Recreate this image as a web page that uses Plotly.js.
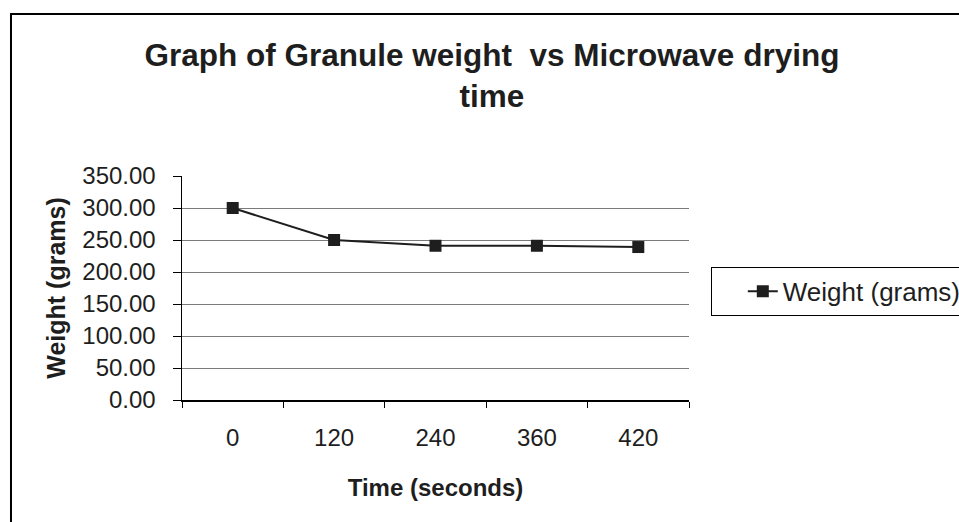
<!DOCTYPE html>
<html>
<head>
<meta charset="utf-8">
<script src="https://cdn.plot.ly/plotly-3.0.1.min.js"></script>
<style>
  html, body { margin: 0; padding: 0; background: #ffffff; }
  #chart { width: 959px; height: 522px; }
</style>
</head>
<body>
<div id="chart"></div>
<script>
// Drying time categories (seconds) and measured granule weight (grams)
const timeLabels = ["0", "120", "240", "360", "420"];
const weights = [300.0, 250.0, 241.0, 241.0, 239.0];
const seriesName = "Weight (grams)";

const FONT = "Liberation Sans, Arial, sans-serif";
const INK = "#1e1e1e";

const trace = {
  type: "scatter",
  mode: "lines+markers",
  x: timeLabels,
  y: weights,
  name: seriesName,
  line: { color: INK, width: 2 },
  marker: { symbol: "square", size: 12, color: INK },
  showlegend: true
};

const layout = {
  width: 959,
  height: 522,
  paper_bgcolor: "#ffffff",
  plot_bgcolor: "#ffffff",
  // fixed plot box; the legend is allowed to run past the right edge
  margin: { l: 182, r: 270, t: 176, b: 122, autoexpand: false },
  font: { family: FONT, color: INK },
  title: {
    text: "Graph of Granule weight\u00a0\u00a0vs Microwave drying<br>time",
    font: { family: FONT, size: 31.5, color: INK, weight: "bold" },
    xref: "container", yref: "container",
    x: 0.513, xanchor: "center",
    y: 0.874, yanchor: "top"
  },
  xaxis: {
    type: "category",
    range: [-0.5, 4.5],
    showgrid: false,
    showline: true, linecolor: "#000", linewidth: 1.5,
    ticks: "outside", tickson: "boundaries", ticklen: 6, tickcolor: "#000",
    tickfont: { family: FONT, size: 24, color: INK },
    ticklabelstandoff: 16,
    title: {
      text: "Time (seconds)",
      font: { family: FONT, size: 24, color: INK, weight: "bold" },
      standoff: 29
    },
    fixedrange: true
  },
  yaxis: {
    range: [0, 350],
    dtick: 50,
    tickformat: ".2f",
    showgrid: true, gridcolor: "#7a7a7a", gridwidth: 1,
    zeroline: false,
    showline: true, linecolor: "#000", linewidth: 1.5,
    ticks: "outside", ticklen: 8, tickcolor: "#000",
    tickfont: { family: FONT, size: 24, color: INK },
    ticklabelstandoff: 12,
    title: {
      text: "Weight (grams)",
      font: { family: FONT, size: 25, color: INK, weight: "bold" },
      standoff: 9
    },
    fixedrange: true
  },
  legend: {
    x: 1.043, xanchor: "left",
    y: 0.594, yanchor: "top",
    bgcolor: "#ffffff",
    bordercolor: "#000", borderwidth: 1,
    font: { family: FONT, size: 26, color: INK },
    indentation: 31,
    tracegroupgap: 0
  },
  shapes: [
    {
      // outer chart frame
      type: "rect", xref: "paper", yref: "paper",
      x0: -0.3373, x1: 1.6, y0: -0.7, y1: 1.7232,
      line: { color: "#000", width: 2 }, fillcolor: "rgba(0,0,0,0)",
      layer: "below"
    }
  ]
};

Plotly.newPlot("chart", [trace], layout, { displayModeBar: false, staticPlot: true });
</script>
</body>
</html>
